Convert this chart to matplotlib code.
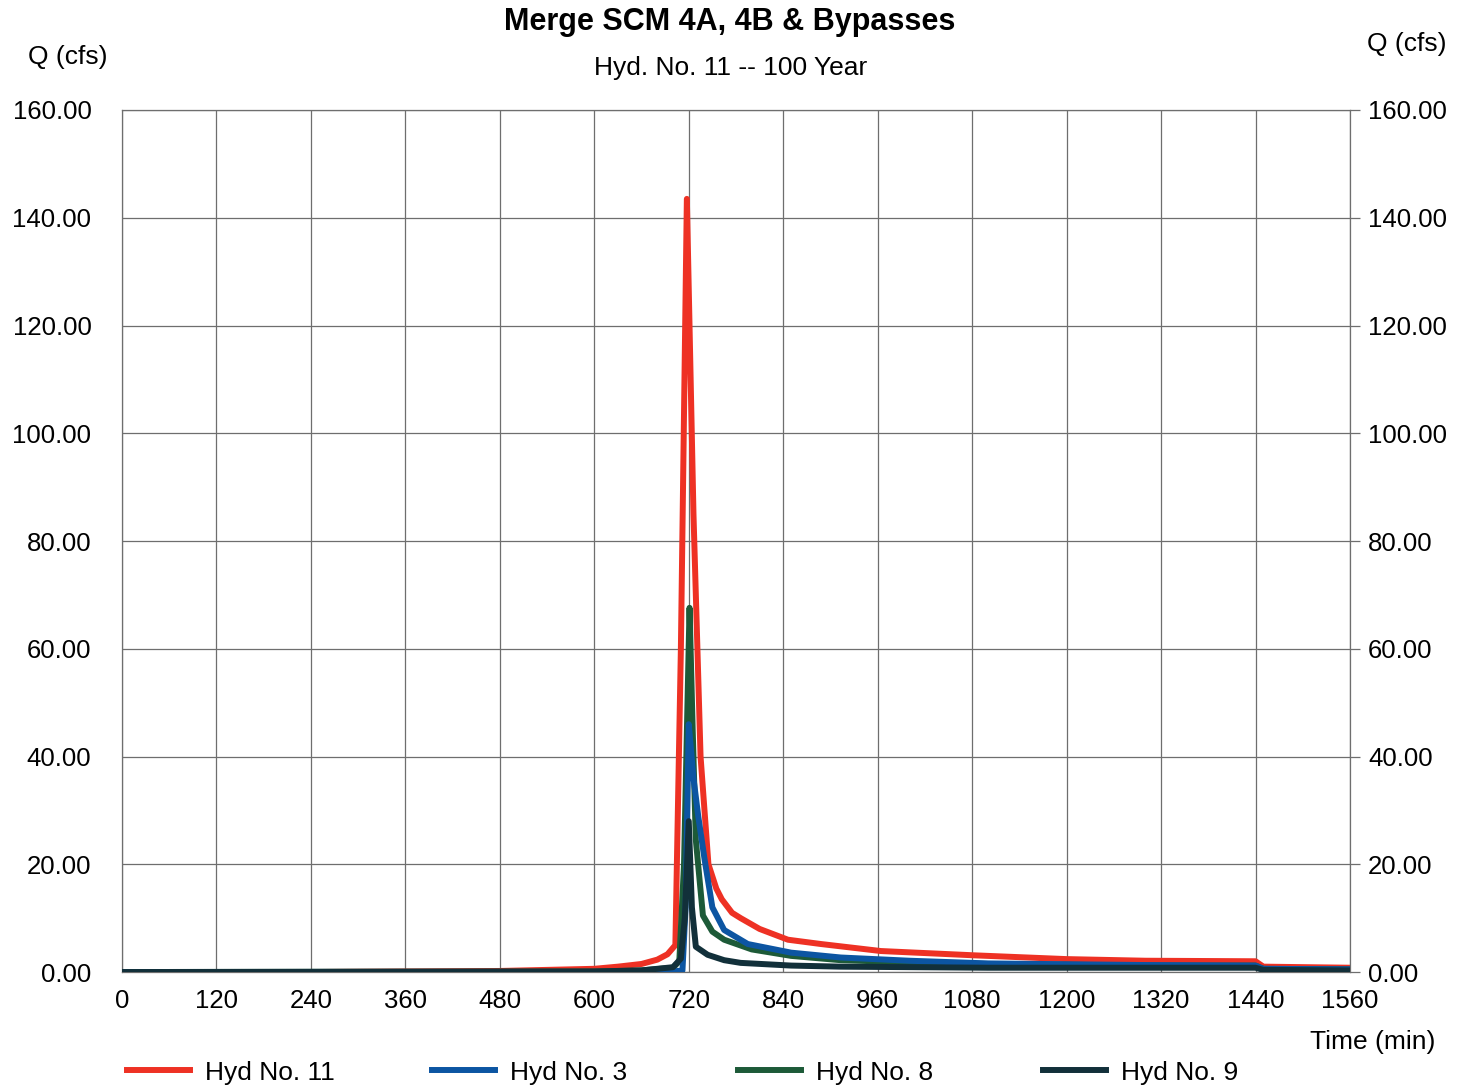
import matplotlib.pyplot as plt

plt.rcParams['font.family'] = ['Liberation Sans', 'DejaVu Sans']

# hydrograph ordinates (time in min, flow in cfs)
t11 = [0, 240, 360, 480, 540, 600, 630, 660, 680, 693, 703, 710, 717.6, 726, 735, 745, 755, 762, 775, 786, 810, 846, 888, 964, 1083, 1200, 1300, 1440, 1450, 1560]
q11 = [0.0, 0.0, 0.1, 0.2, 0.4, 0.6, 1.0, 1.5, 2.3, 3.3, 5.0, 60.0, 143.5, 85.0, 40.0, 20.0, 15.5, 13.5, 11.0, 10.0, 8.0, 6.0, 5.2, 3.9, 3.1, 2.4, 2.1, 2.0, 1.0, 0.8]

t3 = [0, 600, 700, 712, 716, 720, 726, 732, 740, 750, 765, 795, 850, 913, 1000, 1100, 1300, 1440, 1450, 1560]
q3 = [0.0, 0.0, 0.1, 0.3, 12.0, 46.0, 36.0, 29.0, 21.0, 12.0, 7.8, 5.2, 3.6, 2.7, 2.1, 1.6, 1.3, 1.2, 0.6, 0.5]

t8 = [0, 600, 660, 700, 708, 714, 721, 725, 729, 738, 750, 765, 800, 850, 913, 1000, 1100, 1300, 1440, 1450, 1560]
q8 = [0.0, 0.1, 0.3, 0.8, 2.0, 20.0, 67.6, 45.0, 24.5, 10.5, 7.5, 6.0, 4.2, 3.0, 2.2, 1.8, 1.5, 1.2, 1.2, 0.6, 0.5]

t9 = [0, 600, 660, 700, 710, 715, 720, 724, 729, 744, 765, 786, 850, 913, 1100, 1300, 1440, 1450, 1560]
q9 = [0.0, 0.1, 0.3, 0.9, 2.5, 10.0, 28.0, 12.0, 4.7, 3.2, 2.2, 1.7, 1.2, 1.0, 0.8, 0.8, 0.8, 0.4, 0.3]

series = [
    (t11, q11, 'Hyd No. 11', '#ee3124'),
    (t3, q3, 'Hyd No. 3', '#0c55a2'),
    (t8, q8, 'Hyd No. 8', '#1d5a38'),
    (t9, q9, 'Hyd No. 9', '#12303a'),
]
# draw order: red at the back, then green, blue, dark on top
zorders = [2, 4, 3, 5]

xticks = list(range(0, 1561, 120))
yticks = list(range(0, 161, 20))

fig = plt.figure(figsize=(14.68, 10.89), dpi=100)
ax = fig.add_axes([0.0831, 0.1074, 0.8365, 0.7916])

lines = []
for (t, q, name, c), z in zip(series, zorders):
    ln, = ax.plot(t, q, color=c, lw=4.3, label=name, zorder=z)
    lines.append(ln)

ax.set_xlim(0, 1560)
ax.set_ylim(0, 160)
ax.set_xticks(xticks)
ax.set_yticks(yticks)
ax.set_yticklabels([f'{v:.2f}' for v in yticks], fontsize=18.5)
ax.set_xticklabels([str(v) for v in xticks], fontsize=18.5)
ax.grid(True, color='#6e6e6e', lw=0.9)
ax.set_axisbelow(True)
ax.tick_params(axis='y', length=0, pad=22)
ax.tick_params(axis='x', length=0, pad=12)
for s in ax.spines.values():
    s.set_color('#6e6e6e')
    s.set_linewidth(0.9)

ax2 = ax.twinx()
ax2.set_ylim(0, 160)
ax2.set_yticks(yticks)
ax2.set_yticklabels([f'{v:.2f}' for v in yticks], fontsize=18.5)
ax2.tick_params(axis='y', length=7, width=0.9, color='#6e6e6e', pad=6)
for s in ax2.spines.values():
    s.set_visible(False)

fig.text(0.497, 0.980, 'Merge SCM 4A, 4B & Bypasses', ha='center', va='center',
         fontsize=22, fontweight='bold')
fig.text(0.498, 0.938, 'Hyd. No. 11 -- 100 Year', ha='center', va='center', fontsize=19)
fig.text(0.046, 0.948, 'Q (cfs)', ha='center', va='center', fontsize=19)
fig.text(0.958, 0.960, 'Q (cfs)', ha='center', va='center', fontsize=19)
fig.text(0.935, 0.043, 'Time (min)', ha='center', va='center', fontsize=19)

# one legend per entry, spaced evenly along the bottom
for ln, x0 in zip(lines, [127, 432, 738, 1043]):
    fig.legend([ln], [ln.get_label()], loc='center left',
               bbox_to_anchor=(x0 / 1468, 0.015), frameon=False, fontsize=19,
               borderpad=0, borderaxespad=0, handlelength=2.4, handletextpad=0.55)

fig.savefig('out.png', dpi=100)
